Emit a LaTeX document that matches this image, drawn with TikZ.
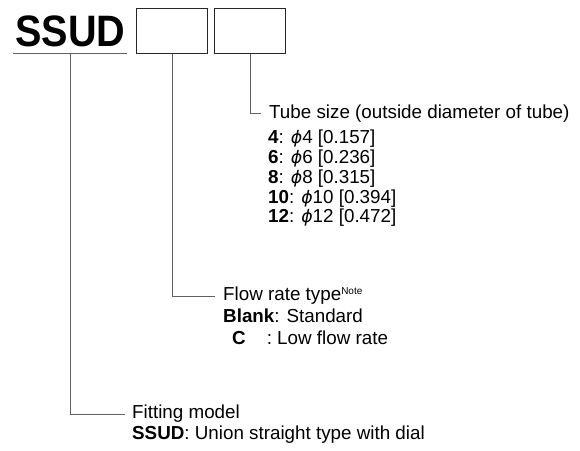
\documentclass[tikz,border=0pt]{standalone}
\usepackage{fontspec}
\setmainfont{Liberation Sans}
\newfontfamily\dvphi[Scale=0.92]{DejaVu Sans}
\newcommand{\diam}{{\dvphi\itshape ϕ}}
\begin{document}
\begin{tikzpicture}[x=1pt,y=-1pt,
  lbl/.style={anchor=west, inner sep=0pt, font=\fontsize{18.8}{21}\selectfont, text height=13.5pt, text depth=4pt},
  lead/.style={draw=black!62, line width=0.9pt},
  codebox/.style={draw=black!85, line width=1pt, minimum width=71pt, minimum height=45pt, inner sep=0pt}]
\useasboundingbox (0,0) rectangle (580,450);
% header
\node[anchor=south west, inner xsep=0pt, inner ysep=6pt, minimum width=114pt] (ssud) at (13,53)
  {\scalebox{0.9}[1]{\fontsize{44}{44}\selectfont\bfseries SSUD}};
\draw[lead] (ssud.south west) -- (ssud.south east);
\node[codebox, anchor=north west] (b1) at (136,8) {};
\node[codebox, anchor=north west] (b2) at (214,8) {};
% tube size
\node[lbl] (tube) at (269,113.5) {Tube size (outside diameter of tube)};
\node[lbl] (t4) at (268,139) {\textbf{4}: \diam4 [0.157]};
\node[lbl] (t6) at (268,159) {\textbf{6}: \diam6 [0.236]};
\node[lbl] (t8) at (268,179) {\textbf{8}: \diam8 [0.315]};
\node[lbl] (t10) at (268,198.5) {\textbf{10}: \diam10 [0.394]};
\node[lbl] (t12) at (268,218) {\textbf{12}: \diam12 [0.472]};
% flow rate
\node[lbl] (flow) at (223,296) {Flow rate type\raisebox{6.5pt}{\fontsize{10}{10}\selectfont Note}};
\node[lbl] (blank) at (223,317.5) {\textbf{Blank}: Standard};
\node[lbl] (low) at (232,340) {\textbf{C}\hspace{21pt}: Low flow rate};
% fitting model
\node[lbl] (fit) at (132,414) {Fitting model};
\node[lbl] (model) at (132,435) {\textbf{SSUD}: Union straight type with dial};
% leaders
\draw[lead] (b2.south) |- ([xshift=-8pt]tube.west);
\draw[lead] (b1.south) |- ([xshift=-8pt]flow.west);
\draw[lead] (ssud.south) |- ([xshift=-7pt]fit.west);
\end{tikzpicture}
\end{document}
